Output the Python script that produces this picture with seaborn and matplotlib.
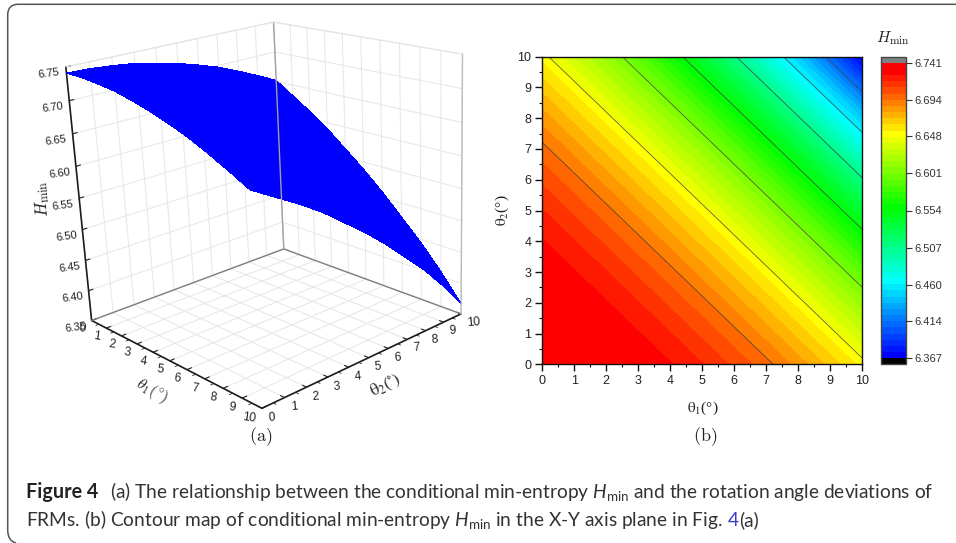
import numpy as np
import matplotlib
matplotlib.use("Agg")
import matplotlib.pyplot as plt
import seaborn as sns
from matplotlib.colors import ListedColormap, BoundaryNorm
from matplotlib.path import Path
from matplotlib.patches import PathPatch
from matplotlib.transforms import IdentityTransform

sns.set_theme(style="white")
plt.rcParams['font.family'] = ['Liberation Sans', 'DejaVu Sans']
plt.rcParams['mathtext.fontset'] = 'custom'
plt.rcParams['mathtext.rm'] = 'Lato'
plt.rcParams['mathtext.it'] = 'Lato:italic'
plt.rcParams['mathtext.bf'] = 'Lato:bold'

W, H = 956, 543
fig = plt.figure(figsize=(W/100, H/100), dpi=100, facecolor='white')

theta_ticks = list(range(11))
# H_min read along theta1 + theta2 = 0, 1, ... 20
h_by_sum = [6.741, 6.740, 6.737, 6.733, 6.726, 6.718, 6.708, 6.697, 6.683, 6.668, 6.652,
            6.632, 6.612, 6.590, 6.564, 6.538, 6.509, 6.477, 6.445, 6.408, 6.367]
z_ticks = [6.35, 6.40, 6.45, 6.50, 6.55, 6.60, 6.65, 6.70, 6.75]
cbar_ticks = [6.367, 6.414, 6.460, 6.507, 6.554, 6.601, 6.648, 6.694, 6.741]
contour_levels = [6.414, 6.460, 6.507, 6.554, 6.601, 6.648, 6.694]
hmat = np.array([[h_by_sum[i+j] for i in theta_ticks] for j in theta_ticks])

def fig_rect(l, t, r, b):
    return [l/W, 1-b/H, (r-l)/W, (b-t)/H]

# ---------- panel (a)
L3, left3, bottom3 = 456.03, 34.22, 115.32
ax = fig.add_axes([left3/W, bottom3/H, L3/W, L3/H], projection='3d')
ax.view_init(elev=18.875, azim=-40.673, roll=2.783)
ax.set_proj_type('persp', focal_length=0.4951)
ax.set_box_aspect((1, 1.0056, 1.0028))
zb, zt = z_ticks[0], z_ticks[-1]
ax.patch.set_alpha(0)

ax.set_xticks(theta_ticks); ax.set_yticks(theta_ticks); ax.set_zticks(z_ticks)
ax.set_zticklabels([f"{v:.2f}" for v in z_ticks])
ax.zaxis.set_ticks_position('lower')
ax.zaxis.set_label_position('lower')
ax.tick_params(axis='both', labelsize=8.6, colors='#222222')
ax.tick_params(axis='x', pad=-3.5, labelrotation=-8)
ax.tick_params(axis='y', pad=-3.5, labelrotation=4)
ax.tick_params(axis='z', pad=-0.5, labelrotation=8, labelsize=8)
for t in ax.xaxis.get_ticklabels():
    t.set(ha='right', va='center')
for t in ax.yaxis.get_ticklabels():
    t.set(ha='left', va='center')
for a in (ax.xaxis, ax.yaxis, ax.zaxis):
    a.set_pane_color((1, 1, 1, 1))
    a.pane.set_edgecolor((1, 1, 1, 0))
    a.line.set_color('#1c1c1c'); a.line.set_linewidth(1.2)
    a._axinfo['grid'].update(color='#e8e8e8', linewidth=0.8)
    a._axinfo['tick'].update(inward_factor=0.0, outward_factor=0.25, linewidth={True: 0.8, False: 0.5})
    a.set_rotate_label(False)
ax.grid(True)

for xs, ys, zs, c, lw in [([0,0],[0,10],[zb,zb],'#808080',1.0), ([0,10],[10,10],[zb,zb],'#808080',1.0),
                          ([0,0],[10,10],[zb,zt],'#a0a0a0',1.0), ([10,10],[10,10],[zb,zt],'#bbbbbb',1.0),
                          ([0,0],[0,10],[zt,zt],'#e4e4e4',0.8), ([0,10],[10,10],[zt,zt],'#e4e4e4',0.8)]:
    ax.plot(xs, ys, zs, color=c, lw=lw)
for m in np.arange(0.5, 10, 1.0):
    ax.plot([m, m], [0, -0.14], [zb, zb], color='#222222', lw=0.6, clip_on=False)
    ax.plot([10, 10.14], [m, m], [zb, zb], color='#222222', lw=0.6, clip_on=False)
ax.set_xlim(0, 10); ax.set_ylim(0, 10); ax.set_zlim(zb, zt)

X, Y = np.meshgrid(theta_ticks, theta_ticks)
ax.plot_surface(X, Y, hmat, color='#0000ff', shade=False, linewidth=0, antialiased=False)

ax.set_xlabel(r"$\theta_{1}(^{\circ})$", math_fontfamily='cm', fontsize=11.5, rotation=-30, labelpad=-6, color='#222222')
ax.set_ylabel(r"$\mathrm{\theta}_{2}(^{\circ})$", math_fontfamily='stix', fontsize=12, rotation=26, labelpad=-7, color='#222222')
ax.set_zlabel(r"$H_{\mathrm{min}}$", math_fontfamily='cm', fontsize=12.5, rotation=95, labelpad=-4, color='#222222')

fig.text(261/W, 1-437/H, r"$\mathrm{(a)}$", math_fontfamily='cm', fontsize=13, ha='center', va='center', color='#222222')

# ---------- panel (b)
bx = fig.add_axes(fig_rect(542.3, 56.7, 862.3, 364.3))
vmin, vmax = cbar_ticks[0], cbar_ticks[-1]
fill_levels = np.linspace(vmin, vmax, 49)
cold = sns.blend_palette(['#0000ff', '#00ffff', '#00ff00', '#ffff00'], 37)
hot = sns.blend_palette(['#ffff00', '#ff0000'], 11)[1:]
band_colors = list(cold) + list(hot) + ['#ff0000']
cmap = ListedColormap(band_colors)
cmap.set_under('#000000'); cmap.set_over('#808080')
norm = BoundaryNorm(fill_levels, 48)
cf = bx.contourf(theta_ticks, theta_ticks, hmat, levels=fill_levels, cmap=cmap, norm=norm, extend='both')
bx.contour(theta_ticks, theta_ticks, hmat, levels=contour_levels, colors='#404040', linewidths=0.6, alpha=0.85)
bx.set_xlim(0, 10); bx.set_ylim(0, 10)
bx.set_xticks(theta_ticks); bx.set_yticks(theta_ticks)
bx.set_xticks(np.arange(0.5, 10, 1), minor=True); bx.set_yticks(np.arange(0.5, 10, 1), minor=True)
bx.tick_params(which='major', direction='out', length=5, width=1, color='#111111', labelsize=9, labelcolor='#222222', left=True, bottom=True, pad=3)
bx.tick_params(which='minor', direction='out', length=2.5, width=0.8, color='#111111', left=True, bottom=True)
for sp in bx.spines.values():
    sp.set_color('#111111'); sp.set_linewidth(1)
bx.set_xlabel(r"$\mathrm{\theta}_{1}$(°)", family='Liberation Serif', math_fontfamily='stix', fontsize=11, color='#222222', va='center')
bx.set_ylabel(r"$\mathrm{\theta}_{2}$(°)", family='Liberation Serif', math_fontfamily='stix', fontsize=11, color='#222222', va='center')
bx.xaxis.set_label_coords(0.5, (364.3-408)/307.6)
bx.yaxis.set_label_coords((502-542.3)/320, 0.5)
fig.text(705/W, 1-437/H, r"$\mathrm{(b)}$", math_fontfamily='cm', fontsize=13, ha='center', va='center', color='#222222')

cax = fig.add_axes(fig_rect(880.7, 56.7, 905.7, 364.3))
cb = fig.colorbar(cf, cax=cax, extend='both', extendrect=True, extendfrac=0.0207, ticks=cbar_ticks, spacing='uniform', drawedges=False)
cb.set_ticklabels([f"{v:.3f}" for v in cbar_ticks])
cb.ax.minorticks_off()
cax.tick_params(axis='y', which='major', length=4.3, width=0.8, color='#333333', labelsize=8, labelcolor='#333333', pad=2, right=True)
cb.outline.set_edgecolor('#444444'); cb.outline.set_linewidth(1)
fig.text(893/W, 1-38/H, r"$H_{\mathrm{min}}$", math_fontfamily='cm', fontsize=11.5, ha='center', va='center', color='#222222')

# ---------- frame
verts = [(956, 4.3), (18, 4.3), (7.7, 4.3), (7.7, 15), (7.7, 530), (7.7, 541), (16, 543)]
codes = [Path.MOVETO, Path.LINETO, Path.CURVE3, Path.CURVE3, Path.LINETO, Path.CURVE3, Path.CURVE3]
fig.add_artist(PathPatch(Path([(x, H-y) for x, y in verts], codes), fc='none', ec='#555555', lw=1.1, transform=IdentityTransform()))

# ---------- caption
renderer = fig.canvas.get_renderer()
def width(s, **kw):
    t = fig.text(0, 0, s, **kw); w = t.get_window_extent(renderer).width; t.remove(); return w
line1 = r"(a) The relationship between the conditional min-entropy $H_{\mathrm{min}}$ and the rotation angle deviations of"
line2a = r"FRMs. (b) Contour map of conditional min-entropy $H_{\mathrm{min}}$ in the X-Y axis plane in Fig. "
cap = dict(family='Lato', fontsize=13.8, color='#333333', va='baseline')
fig.text(25.5/W, 1-498/H, "Figure 4", family='Lato', fontsize=14.19, fontweight='bold', color='#222222', va='baseline')
fig.text(110/W, 1-498/H, line1, **cap)
x2 = 25.5
fig.text(x2/W, 1-526/H, line2a, **cap)
x4 = x2 + width(line2a + "4", **cap) - width("4", **cap)
fig.text(x4/W, 1-526/H, "4", **{**cap, 'color': '#3a3ad0'})
x5 = x4 + width("4", **cap) + 1
fig.text(x5/W, 1-526/H, "(a)", **cap)

fig.savefig("out.png", dpi=100, facecolor='white')
